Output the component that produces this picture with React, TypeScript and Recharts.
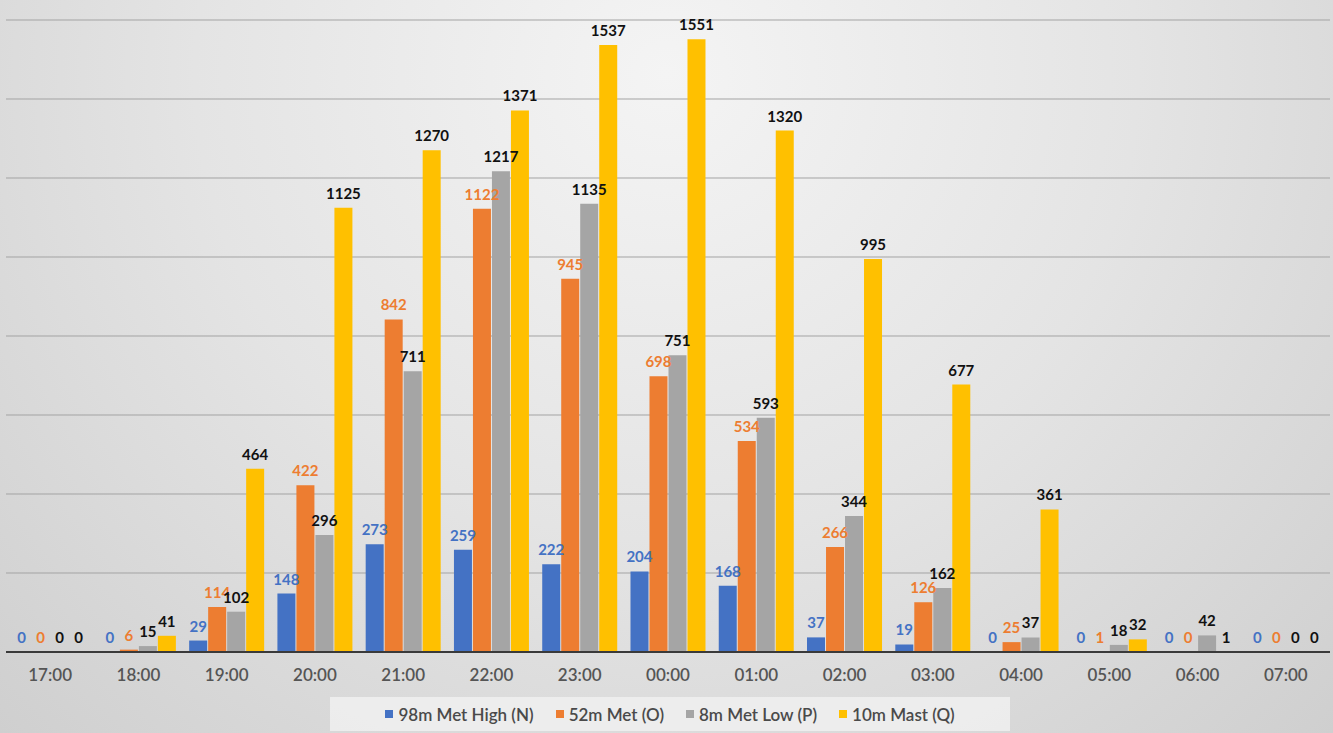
import React from 'react';
import { BarChart, Bar, XAxis, YAxis, CartesianGrid, LabelList } from 'recharts';

const hours = ['17:00', '18:00', '19:00', '20:00', '21:00', '22:00', '23:00', '00:00', '01:00', '02:00', '03:00', '04:00', '05:00', '06:00', '07:00'];
const metHigh = [0, 0, 29, 148, 273, 259, 222, 204, 168, 37, 19, 0, 0, 0, 0];
const met52 = [0, 6, 114, 422, 842, 1122, 945, 698, 534, 266, 126, 25, 1, 0, 0];
const metLow = [0, 15, 102, 296, 711, 1217, 1135, 751, 593, 344, 162, 37, 18, 42, 0];
const mast10 = [0, 41, 464, 1125, 1270, 1371, 1537, 1551, 1320, 995, 677, 361, 32, 1, 0];
const yTicks = [0, 200, 400, 600, 800, 1000, 1200, 1400, 1600];

const series = [
  { key: 'N', name: '98m Met High (N)', color: '#4472C4', label: '#4472C4' },
  { key: 'O', name: '52m Met (O)', color: '#ED7D31', label: '#ED7D31' },
  { key: 'P', name: '8m Met Low (P)', color: '#A5A5A5', label: '#111111' },
  { key: 'Q', name: '10m Mast (Q)', color: '#FFC000', label: '#111111' },
];

const data = hours.map((h, i) => ({
  hour: h,
  N: metHigh[i],
  O: met52[i],
  P: metLow[i],
  Q: mast10[i],
}));

const font = 'Lato, "Open Sans", sans-serif';

// draws the value above the bar, zero bars included
const makeLabel = (color: string) => (props: any) => {
  const { x, y, width, height, value } = props;
  if (value === undefined || value === null) return null;
  const top = Math.min(Number(y), Number(y) + Number(height));
  return (
    <text
      x={Number(x) + Number(width) / 2}
      y={top - 9}
      textAnchor="middle"
      fill={color}
      style={{ fontSize: 15, fontWeight: 700, fontFamily: font }}
    >
      {value}
    </text>
  );
};

const App: React.FC = () => {
  return (
    <div
      style={{
        position: 'absolute',
        top: 0,
        left: 0,
        width: 1333,
        height: 733,
        overflow: 'hidden',
        fontFamily: font,
        background: 'radial-gradient(ellipse at 50% 10%, #f4f4f4 0%, #e4e4e4 50%, #cfcfcf 100%)',
      }}
    >
      <BarChart
        width={1333}
        height={733}
        data={data}
        margin={{ top: 20, right: 3, left: 6, bottom: 45 }}
        barCategoryGap="7.5%"
        barGap={1}
      >
        <CartesianGrid vertical={false} stroke="#a3a3a3" strokeWidth={1} />
        <YAxis hide domain={[0, 1600]} ticks={yTicks} />
        <XAxis
          dataKey="hour"
          height={36}
          tickLine={false}
          tickMargin={11}
          axisLine={{ stroke: '#3a3a3a', strokeWidth: 2 }}
          tick={{ fill: '#555555', fontSize: 17, fontWeight: 600, fontFamily: font }}
        />
        {series.map((s) => (
          <Bar
            key={s.key}
            dataKey={s.key}
            name={s.name}
            fill={s.color}
            minPointSize={0.01}
            isAnimationActive={false}
          >
            <LabelList dataKey={s.key} content={makeLabel(s.label)} />
          </Bar>
        ))}
      </BarChart>
      <div
        style={{
          position: 'absolute',
          left: 330,
          top: 697,
          width: 680,
          height: 34,
          background: 'rgba(240,240,240,0.85)',
          display: 'flex',
          alignItems: 'center',
          justifyContent: 'center',
          gap: 22,
          fontSize: 17,
          fontWeight: 600,
          color: '#4a4a4a',
        }}
      >
        {series.map((s) => (
          <span key={s.key} style={{ display: 'flex', alignItems: 'center' }}>
            <span style={{ display: 'inline-block', width: 8, height: 8, background: s.color, marginRight: 5 }} />
            {s.name}
          </span>
        ))}
      </div>
    </div>
  );
};

export default App;
